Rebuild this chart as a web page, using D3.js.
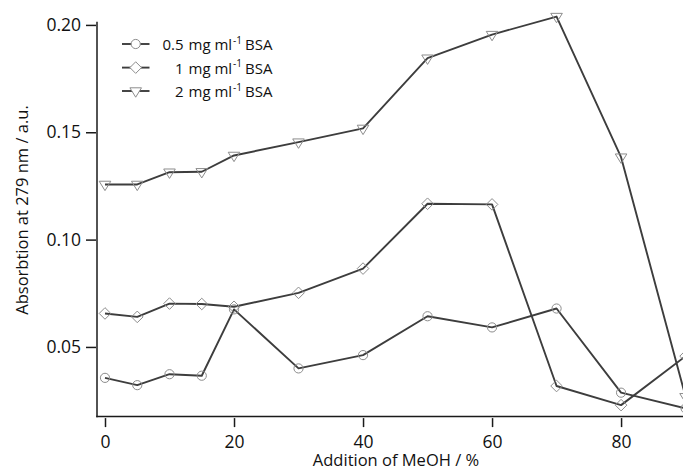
<!DOCTYPE html>
<html>
<head>
<meta charset="utf-8">
<script src="https://cdn.jsdelivr.net/npm/d3@7"></script>
<style>
  html, body { margin: 0; padding: 0; background: #fff; }
  svg { display: block; font-family: "Open Sans", "DejaVu Sans", sans-serif; }
</style>
</head>
<body>
<svg id="chart" width="683" height="470"></svg>
<script>
// MeOH addition (%) at which absorbance was measured
const meohPercent = [0, 5, 10, 15, 20, 30, 40, 50, 60, 70, 80, 90];

// Absorbance at 279 nm for each BSA concentration
const bsa05 = [0.0356, 0.0322, 0.0373, 0.0366, 0.0675, 0.0400, 0.0462, 0.0643, 0.0591, 0.0679, 0.0287, 0.0214];
const bsa1  = [0.0656, 0.0640, 0.0702, 0.0700, 0.0687, 0.0752, 0.0865, 0.1167, 0.1164, 0.0318, 0.0229, 0.0457];
const bsa2  = [0.1257, 0.1257, 0.1314, 0.1316, 0.1392, 0.1454, 0.1518, 0.1845, 0.1955, 0.2039, 0.1384, 0.0268];

const seriesLabels = ["0.5", "1", "2"];
const seriesMarkers = ["circle", "diamond", "triangleDown"];

const xTicks = [0, 20, 40, 60, 80];
const yTicks = [0.05, 0.10, 0.15, 0.20];

const series = [bsa05, bsa1, bsa2].map((vals, i) => ({
  label: seriesLabels[i],
  marker: seriesMarkers[i],
  points: meohPercent.map((m, j) => ({ x: m, y: vals[j] }))
}));

const svg = d3.select("#chart");

const plotLeft = 97, plotRight = 683, plotTop = 21.7, plotBottom = 416.5;

const x = d3.scaleLinear().domain([-1.24, 89.6]).range([plotLeft, plotRight]);
const y = d3.scaleLinear().domain([0.0176, 0.2015]).range([plotBottom, plotTop]);

const lineColor = "#3d3d3d";
const markerColor = "#8c8c8c";
const textColor = "#111";

// marker shapes centred on the data point
function markerPath(kind) {
  if (kind === "circle") {
    const r = 4.6;
    return `M${-r},0A${r},${r} 0 1,0 ${r},0A${r},${r} 0 1,0 ${-r},0Z`;
  }
  if (kind === "diamond") {
    const h = 5.8;
    return `M0,${-h}L${h},0L0,${h}L${-h},0Z`;
  }
  // downward triangle, centroid at origin
  return "M-5.8,-3.2L5.8,-3.2L0,6.2Z";
}

// axes frame lines
svg.append("line")
  .attr("x1", plotLeft).attr("x2", plotLeft)
  .attr("y1", plotTop).attr("y2", plotBottom + 0.75)
  .attr("stroke", "#1a1a1a").attr("stroke-width", 1.5);
svg.append("line")
  .attr("x1", plotLeft - 0.75).attr("x2", plotRight)
  .attr("y1", plotBottom).attr("y2", plotBottom)
  .attr("stroke", "#1a1a1a").attr("stroke-width", 1.5);

// y axis ticks and labels
const yAxis = svg.append("g")
  .attr("transform", `translate(${plotLeft - 1},0)`)
  .call(d3.axisLeft(y).tickValues(yTicks).tickFormat(d3.format(".2f")).tickSize(10).tickPadding(5));
yAxis.select(".domain").remove();
yAxis.selectAll(".tick line").attr("stroke", "#1a1a1a").attr("stroke-width", 1.5);
yAxis.selectAll(".tick text")
  .attr("font-size", 17.5).attr("fill", textColor)
  .attr("font-family", "Open Sans, DejaVu Sans, sans-serif");

// x axis ticks and labels
const xAxis = svg.append("g")
  .attr("transform", `translate(0,${plotBottom + 1.6})`)
  .call(d3.axisBottom(x).tickValues(xTicks).tickFormat(d3.format("d")).tickSize(9).tickPadding(8));
xAxis.select(".domain").remove();
xAxis.selectAll(".tick line").attr("stroke", "#1a1a1a").attr("stroke-width", 1.5);
xAxis.selectAll(".tick text")
  .attr("font-size", 17.5).attr("fill", textColor)
  .attr("font-family", "Open Sans, DejaVu Sans, sans-serif");

// axis titles
svg.append("text")
  .attr("transform", "translate(28,210) rotate(-90)")
  .attr("text-anchor", "middle")
  .attr("font-size", 16.5).attr("fill", textColor)
  .text("Absorbtion at 279 nm / a.u.");

svg.append("text")
  .attr("x", 396).attr("y", 465.5)
  .attr("text-anchor", "middle")
  .attr("font-size", 16.5).attr("fill", textColor)
  .text("Addition of MeOH / %");

// data lines
const line = d3.line().x(d => x(d.x)).y(d => y(d.y));

const plot = svg.append("g");
series.forEach(s => {
  plot.append("path")
    .datum(s.points)
    .attr("d", line)
    .attr("fill", "none")
    .attr("stroke", lineColor)
    .attr("stroke-width", 1.9)
    .attr("stroke-linejoin", "round");
});

series.forEach(s => {
  plot.selectAll(null)
    .data(s.points)
    .join("path")
    .attr("transform", d => `translate(${x(d.x)},${y(d.y)})`)
    .attr("d", markerPath(s.marker))
    .attr("fill", "none")
    .attr("stroke", markerColor)
    .attr("stroke-width", 1);
});

// legend
const legendRows = [44, 67.6, 91];
const legend = svg.append("g");
series.forEach((s, i) => {
  const ly = legendRows[i];
  const row = legend.append("g");
  row.append("line")
    .attr("x1", 122).attr("x2", 149.5)
    .attr("y1", ly).attr("y2", ly)
    .attr("stroke", lineColor).attr("stroke-width", 1.9);
  row.append("path")
    .attr("transform", `translate(135.7,${ly})`)
    .attr("d", markerPath(s.marker))
    .attr("fill", "#fff")
    .attr("stroke", markerColor)
    .attr("stroke-width", 1);
  row.append("text")
    .attr("x", 183.5).attr("y", ly + 6)
    .attr("text-anchor", "end")
    .attr("font-size", 15).attr("fill", textColor)
    .text(s.label);
  const t = row.append("text")
    .attr("x", 188.5).attr("y", ly + 6)
    .attr("font-size", 15).attr("fill", textColor);
  t.append("tspan").text("mg ml");
  t.append("tspan").attr("dy", -6.5).attr("dx", 1).attr("font-size", 10).text("-1");
  t.append("tspan").attr("dy", 6.5).attr("dx", 3).text("BSA");
});
</script>
</body>
</html>
